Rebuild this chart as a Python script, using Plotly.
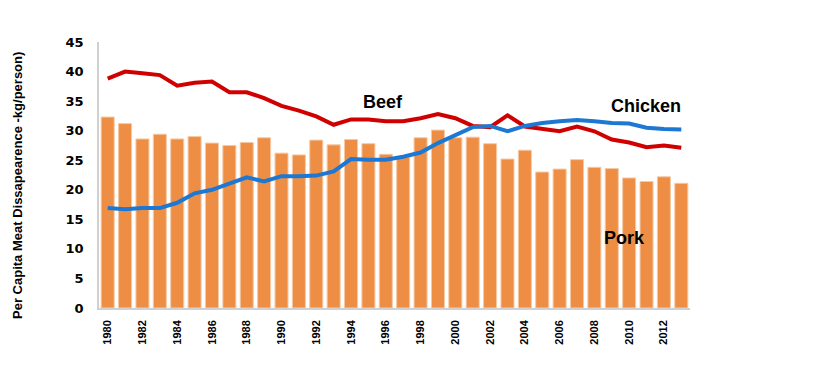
import plotly.graph_objects as go

years = list(range(1980, 2014))
pork = [32.3, 31.2, 28.6, 29.4, 28.6, 29.0, 27.9, 27.5, 28.0, 28.8,
        26.2, 25.9, 28.4, 27.6, 28.5, 27.8, 26.0, 25.5, 28.8, 30.1,
        28.8, 28.9, 27.8, 25.2, 26.7, 23.0, 23.5, 25.1, 23.8, 23.6,
        22.0, 21.4, 22.2, 21.1]
beef = [38.8, 40.0, 39.7, 39.4, 37.6, 38.1, 38.3, 36.5, 36.5, 35.5,
        34.2, 33.4, 32.4, 31.0, 31.9, 31.9, 31.6, 31.6, 32.1, 32.8,
        32.1, 30.8, 30.6, 32.6, 30.7, 30.3, 29.9, 30.7, 29.9, 28.5,
        28.0, 27.2, 27.5, 27.1]
chicken = [16.9, 16.7, 16.9, 16.9, 17.8, 19.4, 20.0, 21.1, 22.1, 21.4,
           22.3, 22.3, 22.4, 23.1, 25.2, 25.1, 25.1, 25.6, 26.3, 27.9,
           29.3, 30.6, 30.8, 29.9, 30.8, 31.3, 31.6, 31.8, 31.6, 31.3,
           31.2, 30.5, 30.3, 30.2]
tick_years = list(range(1980, 2013, 2))
y_ticks = list(range(0, 50, 5))

fig = go.Figure()
fig.add_trace(go.Bar(x=years, y=pork, width=0.75, name="Pork",
                     marker=dict(color="#EE8E45", line=dict(color="#F6C9A5", width=1))))
fig.add_trace(go.Scatter(x=years, y=beef, mode="lines", name="Beef",
                         line=dict(color="#D00000", width=4)))
fig.add_trace(go.Scatter(x=years, y=chicken, mode="lines", name="Chicken",
                         line=dict(color="#1C78D2", width=4)))

lab_font = dict(family="Liberation Sans, Arial", size=18, color="black")
fig.add_annotation(x=1995.83, y=34.8, text="<b>Beef</b>", showarrow=False, font=lab_font)
fig.add_annotation(x=2010.96, y=34.1, text="<b>Chicken</b>", showarrow=False, font=lab_font)
fig.add_annotation(x=2009.73, y=11.9, text="<b>Pork</b>", showarrow=False, font=lab_font)
fig.add_annotation(xref="paper", yref="paper", x=-82 / 591, y=(300 - 178) / 266,
                   xanchor="center", yanchor="middle", textangle=-90, showarrow=False,
                   text="<b>Per Capita Meat Dissapearence -kg/person)</b>",
                   font=dict(family="Liberation Sans, Arial", size=13, color="black"))

fig.update_layout(
    width=834, height=374,
    margin=dict(l=91, r=152, t=34, b=74),
    paper_bgcolor="white", plot_bgcolor="white",
    showlegend=False,
    bargap=0.25,
    xaxis=dict(range=[1979.5, 2013.5], tickmode="array", tickvals=tick_years,
               ticktext=[str(y) for y in tick_years], tickangle=-90,
               showgrid=False, showline=True, linecolor="#D0D0D0", linewidth=1.5,
               ticks="outside", ticklen=6, tickcolor="white", zeroline=False, automargin=False,
               tickfont=dict(family="Liberation Sans, Arial", size=11, color="black", weight="bold")),
    yaxis=dict(range=[0, 45], tickmode="array", tickvals=y_ticks,
               showgrid=False, showline=True, linecolor="#D0D0D0", linewidth=1.5,
               ticks="outside", ticklen=11, tickcolor="white", zeroline=False, automargin=False,
               tickfont=dict(family="DejaVu Sans", size=13, color="black", weight="bold")),
)

fig.write_html("out.html")
